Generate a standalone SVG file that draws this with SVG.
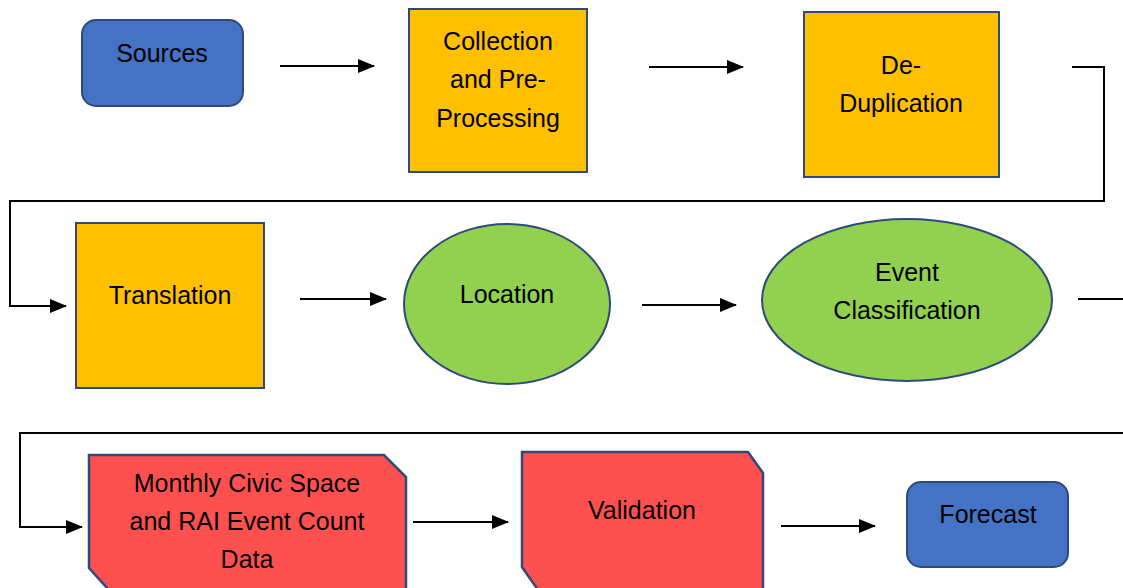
<svg xmlns="http://www.w3.org/2000/svg" width="1123" height="588" viewBox="0 0 1123 588">
<style>
.t{font-family:"Liberation Sans",Arial,sans-serif;font-size:25px;fill:#000;text-anchor:middle}
.blue{fill:#4472C4;stroke:#2F4A7A;stroke-width:2}
.orange{fill:#FFC000;stroke:#2F4A7A;stroke-width:2}
.green{fill:#92D050;stroke:#2F4A7A;stroke-width:2}
.red{fill:#FF5050;stroke:#2F4A7A;stroke-width:2.5}
.c{fill:none;stroke:#000;stroke-width:2}
</style>
<defs>
<marker id="ah" markerWidth="17" markerHeight="14" refX="16" refY="7" orient="auto" markerUnits="userSpaceOnUse">
<path d="M0,0 L17,7 L0,14 Z" fill="#000"/>
</marker>
</defs>
<rect width="1123" height="588" fill="#fff"/>
<g id="connectors">
<line class="c" x1="280" y1="66" x2="374" y2="66" marker-end="url(#ah)"/>
<line class="c" x1="649" y1="67" x2="743" y2="67" marker-end="url(#ah)"/>
<polyline class="c" points="1072,67 1104,67 1104,201 10,201 10,306 66,306" marker-end="url(#ah)"/>
<line class="c" x1="300" y1="299" x2="386" y2="299" marker-end="url(#ah)"/>
<line class="c" x1="642" y1="305" x2="736" y2="305" marker-end="url(#ah)"/>
<line class="c" x1="1078" y1="299" x2="1123" y2="299"/>
<polyline class="c" points="1123,433 20,433 20,527 82,527" marker-end="url(#ah)"/>
<line class="c" x1="413" y1="522" x2="508" y2="522" marker-end="url(#ah)"/>
<line class="c" x1="781" y1="526" x2="875" y2="526" marker-end="url(#ah)"/>
</g>
<g id="sources">
<rect class="blue" x="82" y="20" width="161" height="86" rx="14"/>
<text class="t" x="162" y="62">Sources</text>
</g>
<g id="collection">
<rect class="orange" x="409" y="9" width="178" height="163"/>
<text class="t" x="498" y="50">Collection</text>
<text class="t" x="498" y="88">and Pre-</text>
<text class="t" x="498" y="127">Processing</text>
</g>
<g id="deduplication">
<rect class="orange" x="804" y="12" width="195" height="165"/>
<text class="t" x="901" y="74">De-</text>
<text class="t" x="901" y="112">Duplication</text>
</g>
<g id="translation">
<rect class="orange" x="76" y="223" width="188" height="165"/>
<text class="t" x="170" y="304">Translation</text>
</g>
<g id="location">
<ellipse class="green" cx="507" cy="304" rx="103" ry="80"/>
<text class="t" x="507" y="303">Location</text>
</g>
<g id="event-classification">
<ellipse class="green" cx="907" cy="300" rx="145" ry="81"/>
<text class="t" x="907" y="281">Event</text>
<text class="t" x="907" y="319">Classification</text>
</g>
<g id="monthly-data">
<path class="red" d="M89,455 L384,455 L406,477 L406,600 L118,600 L89,568 Z"/>
<text class="t" x="247" y="492">Monthly Civic Space</text>
<text class="t" x="247" y="530">and RAI Event Count</text>
<text class="t" x="247" y="568">Data</text>
</g>
<g id="validation">
<path class="red" d="M522,452 L748,452 L763,473 L763,600 L545,600 L522,567 Z"/>
<text class="t" x="642" y="519">Validation</text>
</g>
<g id="forecast">
<rect class="blue" x="907" y="482" width="161" height="85" rx="14"/>
<text class="t" x="988" y="523">Forecast</text>
</g>
</svg>
